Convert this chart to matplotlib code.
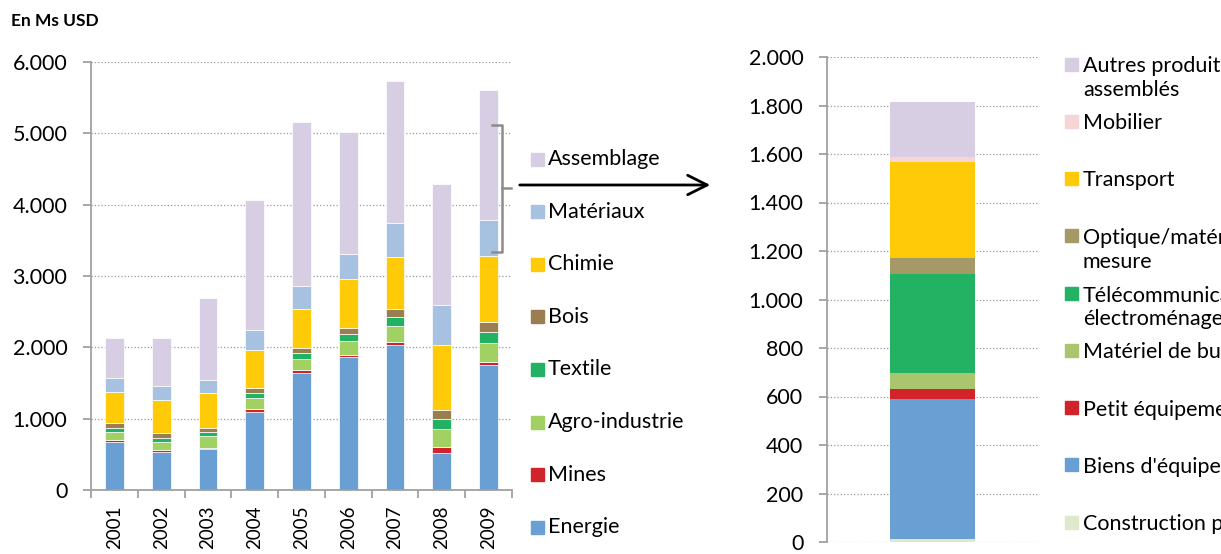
import matplotlib
matplotlib.use('Agg')
import matplotlib.pyplot as plt
from matplotlib.patches import Rectangle, FancyArrowPatch
from matplotlib.lines import Line2D
from matplotlib.ticker import FuncFormatter, FixedLocator

plt.rcParams['font.family'] = ['Lato', 'DejaVu Sans']

# left chart data (millions USD), stacked bottom to top
years = ['2001', '2002', '2003', '2004', '2005', '2006', '2007', '2008', '2009']
energie = [672, 532, 570, 1092, 1644, 1858, 2027, 518, 1746]
mines = [28, 28, 18, 38, 37, 38, 46, 84, 52]
agro = [112, 112, 168, 164, 150, 191, 224, 252, 261]
textile = [56, 62, 56, 65, 94, 103, 126, 146, 159]
bois = [76, 70, 56, 75, 64, 79, 112, 126, 135]
chimie = [434, 462, 486, 527, 552, 682, 734, 901, 930]
materiaux = [196, 191, 187, 280, 323, 354, 470, 564, 504]
assemblage = [551, 668, 1156, 1830, 2296, 1715, 1995, 1705, 1815]

left_series = [energie, mines, agro, textile, bois, chimie, materiaux, assemblage]
left_labels = ['Energie', 'Mines', 'Agro-industrie', 'Textile', 'Bois', 'Chimie',
               'Matériaux', 'Assemblage']
left_colors = ['#6A9FD4', '#D2222A', '#A1D063', '#23B264', '#9B7D52', '#FFCA08',
               '#A7C1E0', '#D7CEE4']

# right chart: detail of "Assemblage" 2009, bottom to top
right_labels = ['Construction préfabriquée', "Biens d'équipement", 'Petit équipement',
                'Matériel de bureau', 'Télécommunication/\nélectroménager',
                'Optique/matériel de\nmesure', 'Transport', 'Mobilier',
                'Autres produits\nassemblés']
right_values = [14, 577, 40, 64, 410, 66, 396, 20, 227]
right_colors = ['#DFE8CC', '#6A9FD4', '#D2222A', '#A9C56E', '#23B264', '#A59A67',
                '#FFCA08', '#F5D5D5', '#D7CEE4']

W, H = 1221, 554
fig = plt.figure(figsize=(W / 100, H / 100), dpi=100)

def fx(x):
    return x / W

def fy(y):
    return 1 - y / H

grey = '#A0A0A0'
fs = 15.5
thousands = FuncFormatter(lambda v, p: f'{int(v):,}'.replace(',', '.'))

# ---- left chart
ax1 = fig.add_axes([fx(91), fy(490), fx(512) - fx(91), fy(62) - fy(490)])
xs = list(range(len(years)))
bottom = [0] * len(years)
for vals, col in zip(left_series, left_colors):
    ax1.bar(xs, vals, 0.4, bottom=bottom, color=col, edgecolor='white', linewidth=0.5)
    bottom = [b + v for b, v in zip(bottom, vals)]
ax1.set_xlim(-0.5, len(years) - 0.5)
ax1.set_ylim(0, 6000)
ax1.set_yticks(range(0, 6001, 1000))
ax1.yaxis.set_major_formatter(thousands)
ax1.set_xticks(xs)
ax1.set_xticklabels(years, rotation=90)
ax1.xaxis.set_minor_locator(FixedLocator([i - 0.5 for i in range(len(years) + 1)]))
ax1.tick_params(axis='x', which='major', length=0, pad=11, labelsize=13.5)
ax1.tick_params(axis='x', which='minor', length=6, width=1.3, color=grey)
ax1.tick_params(axis='y', length=6, width=1.3, color=grey, labelsize=fs, pad=11)
ax1.grid(axis='y', linestyle=':', color='#999999', linewidth=0.9)
ax1.set_axisbelow(True)
for s in ['top', 'right']:
    ax1.spines[s].set_visible(False)
for s in ['left', 'bottom']:
    ax1.spines[s].set_color(grey)
    ax1.spines[s].set_linewidth(1.3)

# ---- right chart
ax2 = fig.add_axes([fx(827), fy(542), fx(1038) - fx(827), fy(57) - fy(542)])
b = 0
for v, col in zip(right_values, right_colors):
    ax2.bar([0], [v], 0.4, bottom=b, color=col, linewidth=0)
    b += v
ax2.set_xlim(-0.5, 0.5)
ax2.set_ylim(0, 2000)
ax2.set_yticks(range(0, 2001, 200))
ax2.yaxis.set_major_formatter(thousands)
ax2.set_xticks([])
ax2.tick_params(axis='y', length=6, width=1.3, color=grey, labelsize=fs, pad=11)
ax2.grid(axis='y', linestyle=':', color='#999999', linewidth=0.9)
ax2.set_axisbelow(True)
for s in ['top', 'right', 'bottom']:
    ax2.spines[s].set_visible(False)
ax2.spines['left'].set_color(grey)
ax2.spines['left'].set_linewidth(1.3)

# ---- legends (drawn by hand to follow the Excel spacing)
sq = 13
for i, (lab, col) in enumerate(zip(left_labels[::-1], left_colors[::-1])):
    yc = 159 + i * 52.6
    fig.add_artist(Rectangle((fx(531), fy(yc + sq / 2)), sq / W, sq / H,
                             transform=fig.transFigure, color=col))
    fig.text(fx(548), fy(yc + 6), lab, va='baseline', ha='left', fontsize=fs)

for i, (lab, col) in enumerate(zip(right_labels[::-1], right_colors[::-1])):
    yc = 64 + i * 57.25
    fig.add_artist(Rectangle((fx(1065), fy(yc + sq / 2)), sq / W, sq / H,
                             transform=fig.transFigure, color=col))
    fig.text(fx(1083), fy(yc - 8), lab, va='top', ha='left', fontsize=fs,
             linespacing=1.25)

# ---- bracket and arrow
brk = dict(color='#8C8C8C', linewidth=1.8, transform=fig.transFigure)
fig.add_artist(Line2D([fx(492), fx(502), fx(502), fx(492)],
                      [fy(125), fy(125), fy(252), fy(252)], **brk))
fig.add_artist(Line2D([fx(502), fx(511)], [fy(188), fy(188)], **brk))
fig.add_artist(FancyArrowPatch((fx(517), fy(185)), (fx(713), fy(185)),
                               transform=fig.transFigure,
                               arrowstyle='->,head_length=0.7,head_width=0.35',
                               mutation_scale=20, color='black', linewidth=2))

fig.text(fx(11), fy(21), 'En Ms USD', fontsize=12.5, fontweight='bold', va='center')

fig.savefig('out.png', dpi=100)
